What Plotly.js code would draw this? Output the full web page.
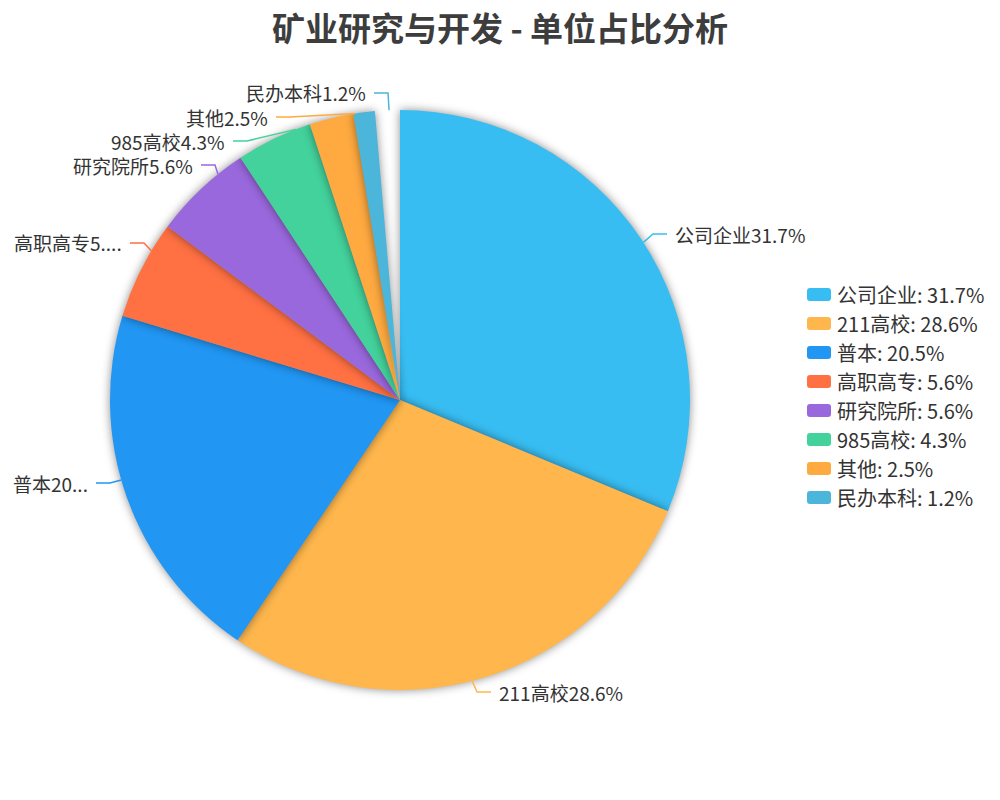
<!DOCTYPE html>
<html>
<head>
<meta charset="utf-8">
<script src="https://cdn.plot.ly/plotly-3.0.1.min.js"></script>
<style>
  body { margin: 0; background: #fff; }
  #chart { width: 1000px; height: 800px; }
  /* soft shadow around every slice, like the original */
  .pielayer .slice path.surface { filter: drop-shadow(0px 0px 5px rgba(0, 0, 0, 0.45)); }
</style>
</head>
<body>
<div id="chart"></div>
<script>
// data
const names = ["公司企业", "211高校", "普本", "高职高专", "研究院所", "985高校", "其他", "民办本科"];
const shares = [31.7, 28.6, 20.5, 5.6, 5.6, 4.3, 2.5, 1.2];
const sliceText = ["公司企业31.7%", "211高校28.6%", "普本20...", "高职高专5....", "研究院所5.6%", "985高校4.3%", "其他2.5%", "民办本科1.2%"];
const legendText = ["公司企业: 31.7%", "211高校: 28.6%", "普本: 20.5%", "高职高专: 5.6%", "研究院所: 5.6%", "985高校: 4.3%", "其他: 2.5%", "民办本科: 1.2%"];
const colors = ["#38bdf2", "#ffb74d", "#2196f3", "#ff7043", "#9a68dd", "#43d29c", "#ffaa40", "#4bb5da"];
// the sweep in the picture stops a little short of a full circle
const gapShare = 1.4;

// layout helpers (pixels -> paper)
const W = 1000, H = 800, CX = 400, CY = 400, R = 290;
const px = x => x / W;
const py = y => 1 - y / H;

// where each outside label sits: [x of text edge, y centre, side]
const labelPos = [
  [673, 234, "left"],
  [497, 692, "left"],
  [90, 483, "right"],
  [124, 243, "right"],
  [195, 165, "right"],
  [227, 141, "right"],
  [270, 117, "right"],
  [368, 93, "right"]
];

const total = shares.reduce((a, b) => a + b, 0);
let cum = 0;
const shapes = [];
const annotations = [];

for (let i = 0; i < shares.length; i++) {
  const mid = (cum + shares[i] / 2) / total * 2 * Math.PI;
  cum += shares[i];
  const ex = CX + R * Math.sin(mid);
  const ey = CY - R * Math.cos(mid);
  const [lx, ly, side] = labelPos[i];
  const s = side === "left" ? -1 : 1;
  const x3 = lx + 6 * s;
  const x2 = lx + 20 * s;
  shapes.push({
    type: "path", xref: "paper", yref: "paper",
    path: "M" + px(ex) + "," + py(ey) + " L" + px(x2) + "," + py(ly) + " L" + px(x3) + "," + py(ly),
    line: { color: colors[i], width: 1.5 }
  });
  annotations.push({
    xref: "paper", yref: "paper", x: px(lx), y: py(ly),
    xanchor: side, yanchor: "middle", showarrow: false,
    text: sliceText[i],
    font: { family: "Noto Sans CJK SC", size: 19, color: "#333" }
  });
}

// legend, drawn by hand so the gap slice stays out of it
for (let i = 0; i < names.length; i++) {
  const top = 288 + i * 29, bot = top + 13, l = 807, r = 831, c = 3;
  shapes.push({
    type: "path", xref: "paper", yref: "paper",
    path: "M" + px(l + c) + "," + py(top) +
      " L" + px(r - c) + "," + py(top) + " Q" + px(r) + "," + py(top) + " " + px(r) + "," + py(top + c) +
      " L" + px(r) + "," + py(bot - c) + " Q" + px(r) + "," + py(bot) + " " + px(r - c) + "," + py(bot) +
      " L" + px(l + c) + "," + py(bot) + " Q" + px(l) + "," + py(bot) + " " + px(l) + "," + py(bot - c) +
      " L" + px(l) + "," + py(top + c) + " Q" + px(l) + "," + py(top) + " " + px(l + c) + "," + py(top) + " Z",
    fillcolor: colors[i], line: { width: 0 }
  });
  annotations.push({
    xref: "paper", yref: "paper", x: px(835), y: py(top + 6.5),
    xanchor: "left", yanchor: "middle", showarrow: false,
    text: legendText[i],
    font: { family: "Noto Sans CJK SC", size: 20, color: "#333" }
  });
}

const trace = {
  type: "pie",
  values: shares.concat([gapShare]),
  labels: names.concat(["gap"]),
  marker: { colors: colors.concat(["rgba(0,0,0,0)"]), line: { width: 0 } },
  sort: false,
  direction: "clockwise",
  rotation: 0,
  textinfo: "none",
  hoverinfo: "skip",
  showlegend: false,
  domain: { x: [px(CX - R), px(CX + R)], y: [py(CY + R), py(CY - R)] }
};

const layout = {
  width: W, height: H,
  margin: { l: 0, r: 0, t: 0, b: 0 },
  paper_bgcolor: "#fff",
  showlegend: false,
  title: {
    text: "矿业研究与开发 - 单位占比分析",
    x: 0.5, xanchor: "center", xref: "paper",
    y: py(29), yanchor: "middle", yref: "paper",
    font: { family: "Noto Sans CJK SC", size: 33, color: "#3d3d3d", weight: "bold" }
  },
  shapes: shapes,
  annotations: annotations
};

Plotly.newPlot("chart", [trace], layout, { displayModeBar: false, staticPlot: true });
</script>
</body>
</html>
